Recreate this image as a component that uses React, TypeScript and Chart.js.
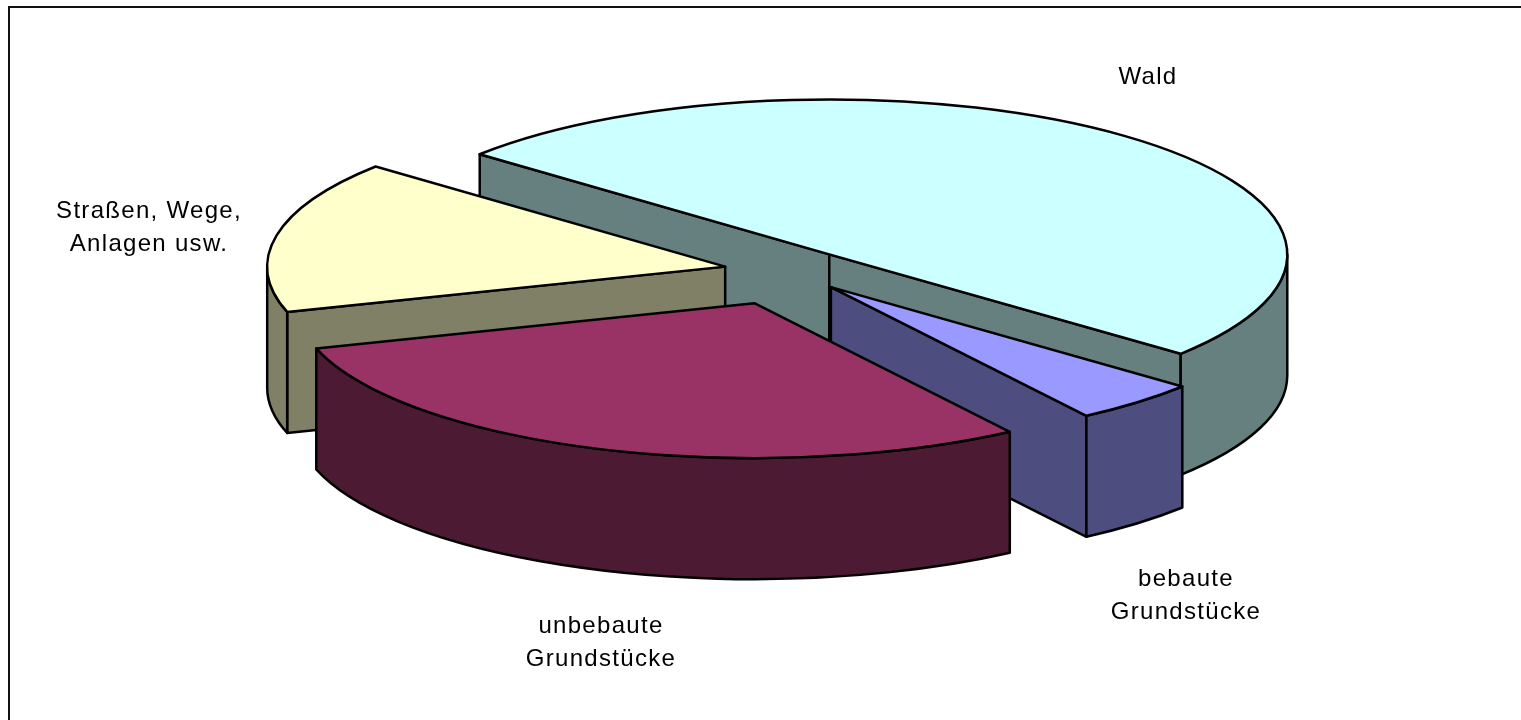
import { useEffect, useRef } from "react";
import { Chart, registerables } from "chart.js";

Chart.register(...registerables);

// ---- data ----
const categories: string[][] = [
  ["Wald"],
  ["bebaute", "Grundstücke"],
  ["unbebaute", "Grundstücke"],
  ["Straßen, Wege,", "Anlagen usw."],
];
const shares: number[] = [49.9, 4.5, 29.7, 15.9];

// ---- style ----
const TOP_COLORS = ["#CCFFFF", "#9999FF", "#993366", "#FFFFCC"];
const SIDE_COLORS = ["#668080", "#4D4D80", "#4D1A33", "#808066"];
const BASE_RADIUS = 200; // chart.js radius (px)
const EXPLODE_PX = [28, 28, 44, 28]; // chart.js arc offset (px, circle space)
const RX = 458; // screen ellipse half-width
const RY = 155; // screen ellipse half-height
const DEPTH = 121; // thickness of the pie
const LABEL_ANCHORS: [number, number][] = [
  [1148, 84],
  [1186, 586],
  [601, 633],
  [149, 218],
];
const LINE_H = 33;
const FONT = "24px 'Liberation Sans', Arial, sans-serif";

const TAU = Math.PI * 2;

const pie3d = {
  id: "pie3d",
  beforeDatasetsDraw(chart: any) {
    const ctx: CanvasRenderingContext2D = chart.ctx;
    const meta = chart.getDatasetMeta(0);
    const slices = meta.data.map((arc: any, i: number) => {
      const p = arc.getProps(["x", "y", "startAngle", "endAngle", "outerRadius"], true);
      const off = arc.options.offset || 0;
      const kx = RX / p.outerRadius;
      const ky = RY / p.outerRadius;
      const mid = (p.startAngle + p.endAngle) / 2;
      const ax = p.x + Math.cos(mid) * off * kx;
      const ay = p.y + Math.sin(mid) * off * ky;
      return {
        i,
        ax,
        ay,
        rx: p.outerRadius * kx,
        ry: p.outerRadius * ky,
        s: p.startAngle,
        e: p.endAngle,
        key: ay + Math.sin(mid) * p.outerRadius * ky * 0.5,
      };
    });
    slices.sort((a: any, b: any) => a.key - b.key);

    ctx.save();
    ctx.lineWidth = 2.5;
    ctx.lineJoin = "round";
    ctx.strokeStyle = "#000";

    const radiusWall = (sl: any, a: number) => {
      const ox = sl.ax + sl.rx * Math.cos(a);
      const oy = sl.ay + sl.ry * Math.sin(a);
      ctx.beginPath();
      ctx.moveTo(sl.ax, sl.ay);
      ctx.lineTo(ox, oy);
      ctx.lineTo(ox, oy + DEPTH);
      ctx.lineTo(sl.ax, sl.ay + DEPTH);
      ctx.closePath();
      ctx.fillStyle = SIDE_COLORS[sl.i];
      ctx.fill();
      ctx.stroke();
    };

    const outerWall = (sl: any, a1: number, a2: number) => {
      ctx.beginPath();
      ctx.ellipse(sl.ax, sl.ay, sl.rx, sl.ry, 0, a1, a2, false);
      ctx.lineTo(sl.ax + sl.rx * Math.cos(a2), sl.ay + sl.ry * Math.sin(a2) + DEPTH);
      ctx.ellipse(sl.ax, sl.ay + DEPTH, sl.rx, sl.ry, 0, a2, a1, true);
      ctx.closePath();
      ctx.fillStyle = SIDE_COLORS[sl.i];
      ctx.fill();
      ctx.stroke();
    };

    for (const sl of slices) {
      if (Math.cos(sl.s) < 0) radiusWall(sl, sl.s);
      if (Math.cos(sl.e) > 0) radiusWall(sl, sl.e);
      for (let k = -2; k <= 2; k++) {
        const w1 = k * TAU;
        const w2 = w1 + Math.PI;
        const a1 = Math.max(sl.s, w1);
        const a2 = Math.min(sl.e, w2);
        if (a2 > a1 + 1e-6) outerWall(sl, a1, a2);
      }
      ctx.beginPath();
      ctx.moveTo(sl.ax, sl.ay);
      ctx.ellipse(sl.ax, sl.ay, sl.rx, sl.ry, 0, sl.s, sl.e, false);
      ctx.closePath();
      ctx.fillStyle = TOP_COLORS[sl.i];
      ctx.fill();
      ctx.stroke();
    }

    // data labels
    ctx.fillStyle = "#000";
    ctx.font = FONT;
    ctx.textAlign = "center";
    ctx.textBaseline = "alphabetic";
    try {
      (ctx as any).letterSpacing = "1.3px";
    } catch (e) {}
    const labels = chart.data.labels as string[][];
    labels.forEach((lines, i) => {
      const [lx, ly] = LABEL_ANCHORS[i];
      lines.forEach((t, j) => ctx.fillText(t, lx, ly + j * LINE_H));
    });
    ctx.restore();
    return false;
  },
};

export default function App() {
  const ref = useRef<HTMLCanvasElement | null>(null);
  useEffect(() => {
    if (!ref.current) return;
    const chart = new Chart(ref.current, {
      type: "pie",
      data: {
        labels: categories,
        datasets: [
          {
            data: shares,
            backgroundColor: TOP_COLORS,
            borderColor: "#000",
            borderWidth: 0,
            offset: EXPLODE_PX,
          },
        ],
      },
      options: {
        responsive: false,
        animation: false,
        events: [],
        rotation: -49.75,
        radius: BASE_RADIUS,
        layout: { padding: { left: 55, right: 0, top: 0, bottom: 178 } },
        plugins: {
          legend: { display: false },
          tooltip: { enabled: false },
        },
      } as any,
      plugins: [pie3d as any],
    });
    return () => chart.destroy();
  }, []);

  return (
    <>
      <canvas
        ref={ref}
        width={1521}
        height={720}
        style={{ position: "fixed", left: 0, top: 0, width: 1521, height: 720 }}
      />
      <div
        style={{
          position: "fixed",
          left: 8,
          top: 6,
          width: 1600,
          height: 800,
          borderLeft: "2px solid #111",
          borderTop: "2px solid #111",
          pointerEvents: "none",
        }}
      />
    </>
  );
}
